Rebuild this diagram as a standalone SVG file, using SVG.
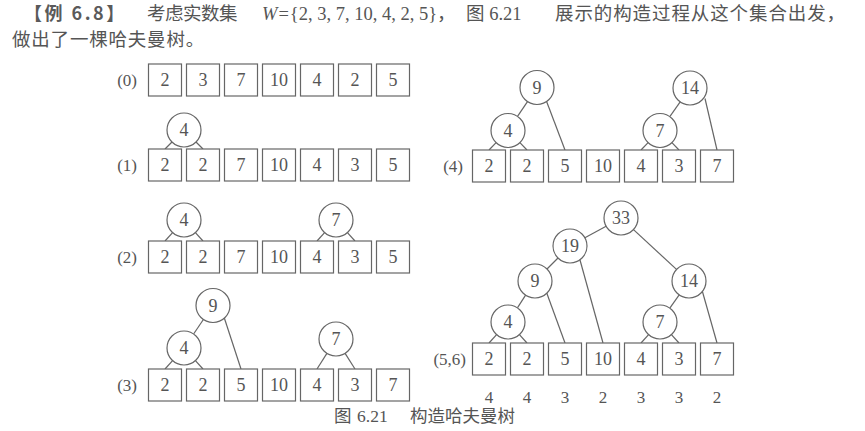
<svg xmlns="http://www.w3.org/2000/svg" width="865" height="431" viewBox="0 0 865 431">
<style>
.bx{fill:#fff;stroke:#666;stroke-width:1.2}
.nd{fill:#fff;stroke:#666;stroke-width:1.2}
.t{font-family:"Liberation Serif","Noto Sans CJK SC",serif;font-size:18px;fill:#555;text-anchor:middle}
.lb{font-family:"Liberation Serif",serif;font-size:17px;fill:#555;text-anchor:end}
.w{font-family:"Liberation Serif",serif;font-size:17px;fill:#555;text-anchor:middle}
.cj{font-family:"Liberation Serif","Noto Sans CJK SC",serif;font-size:18.5px;fill:#555}
.cap{font-family:"Liberation Serif","Noto Sans CJK SC",serif;font-size:17.5px;fill:#555}
#edges line{stroke:#666;stroke-width:1.2}
</style>
<rect width="865" height="431" fill="#fff"/>
<g id="header">
<text x="24" y="20" letter-spacing="2.5" style="font-family:'Noto Sans CJK SC',sans-serif;font-size:18px;font-weight:bold;fill:#5a5a5a">【例 6.8】</text>
<text class="cj" x="147" y="20" letter-spacing="-0.5">考虑实数集</text>
<text class="cj" x="262" y="20"><tspan font-style="italic">W</tspan><tspan dx="1">=</tspan><tspan dx="1">{2, 3, 7, 10, 4, 2, 5}</tspan></text>
<text class="cj" x="437" y="20">，</text>
<text class="cj" x="466" y="20">图 6.21</text>
<text class="cj" x="555" y="20" letter-spacing="0.9">展示的构造过程从这个集合出发，</text>
<text class="cj" x="12" y="46" letter-spacing="0.8">做出了一棵哈夫曼树。</text>
</g>
<g id="edges">
<line x1="172" y1="142" x2="165" y2="149"/><line x1="196" y1="142" x2="203" y2="149"/>
<line x1="172.6" y1="232.6" x2="165" y2="241"/><line x1="195.4" y1="232.6" x2="203" y2="241"/>
<line x1="324.6" y1="232.6" x2="317" y2="241"/><line x1="347.4" y1="232.6" x2="355" y2="241"/>
<line x1="172.6" y1="360.6" x2="165" y2="369"/><line x1="195.4" y1="360.6" x2="203" y2="369"/>
<line x1="203.4" y1="319.5" x2="193.6" y2="334"/><line x1="224" y1="317" x2="241" y2="369"/>
<line x1="326.9" y1="353.4" x2="317" y2="369"/><line x1="345.1" y1="353.4" x2="355" y2="369"/>
<line x1="496.1" y1="142.7" x2="489" y2="150"/><line x1="519.9" y1="142.7" x2="527" y2="150"/>
<line x1="527.5" y1="101.6" x2="517.5" y2="116.4"/><line x1="546.7" y1="101.7" x2="565" y2="150"/>
<line x1="648.1" y1="142.7" x2="641" y2="150"/><line x1="671.9" y1="142.7" x2="679" y2="150"/>
<line x1="680.2" y1="101.9" x2="669.8" y2="116.6"/><line x1="705" y1="98.5" x2="717" y2="150"/>
<line x1="496.6" y1="334.6" x2="489" y2="343"/><line x1="519.4" y1="334.6" x2="527" y2="343"/>
<line x1="525.6" y1="295.2" x2="517.4" y2="307.8"/><line x1="546" y1="291" x2="565" y2="343"/>
<line x1="558" y1="258" x2="547" y2="269"/><line x1="580" y1="260" x2="603" y2="343"/>
<line x1="606.1" y1="226.2" x2="584.9" y2="237.8"/><line x1="633.5" y1="229.6" x2="676.5" y2="269.4"/>
<line x1="679.2" y1="294.9" x2="669.8" y2="308.1"/><line x1="702" y1="290" x2="717" y2="343"/>
<line x1="648.6" y1="334.6" x2="641" y2="343"/><line x1="671.4" y1="334.6" x2="679" y2="343"/>
</g>
<g id="step0">
<text class="lb" x="137" y="86">(0)</text>
<g id="s0b1"><rect class="bx" x="148.5" y="64" width="33" height="32"/><text class="t" x="165" y="86">2</text></g>
<g id="s0b2"><rect class="bx" x="186.5" y="64" width="33" height="32"/><text class="t" x="203" y="86">3</text></g>
<g id="s0b3"><rect class="bx" x="224.5" y="64" width="33" height="32"/><text class="t" x="241" y="86">7</text></g>
<g id="s0b4"><rect class="bx" x="262.5" y="64" width="33" height="32"/><text class="t" x="279" y="86">10</text></g>
<g id="s0b5"><rect class="bx" x="300.5" y="64" width="33" height="32"/><text class="t" x="317" y="86">4</text></g>
<g id="s0b6"><rect class="bx" x="338.5" y="64" width="33" height="32"/><text class="t" x="355" y="86">2</text></g>
<g id="s0b7"><rect class="bx" x="376.5" y="64" width="33" height="32"/><text class="t" x="393" y="86">5</text></g>
</g>
<g id="step1">
<text class="lb" x="137" y="171">(1)</text>
<g id="s1c4"><circle class="nd" cx="184" cy="130" r="17"/><text class="t" x="184" y="136">4</text></g>
<g id="s1b1"><rect class="bx" x="148.5" y="149" width="33" height="32"/><text class="t" x="165" y="171">2</text></g>
<g id="s1b2"><rect class="bx" x="186.5" y="149" width="33" height="32"/><text class="t" x="203" y="171">2</text></g>
<g id="s1b3"><rect class="bx" x="224.5" y="149" width="33" height="32"/><text class="t" x="241" y="171">7</text></g>
<g id="s1b4"><rect class="bx" x="262.5" y="149" width="33" height="32"/><text class="t" x="279" y="171">10</text></g>
<g id="s1b5"><rect class="bx" x="300.5" y="149" width="33" height="32"/><text class="t" x="317" y="171">4</text></g>
<g id="s1b6"><rect class="bx" x="338.5" y="149" width="33" height="32"/><text class="t" x="355" y="171">3</text></g>
<g id="s1b7"><rect class="bx" x="376.5" y="149" width="33" height="32"/><text class="t" x="393" y="171">5</text></g>
</g>
<g id="step2">
<text class="lb" x="137" y="263">(2)</text>
<g id="s2c4"><circle class="nd" cx="184" cy="220" r="17"/><text class="t" x="184" y="226">4</text></g>
<g id="s2c7"><circle class="nd" cx="336" cy="220" r="17"/><text class="t" x="336" y="226">7</text></g>
<g id="s2b1"><rect class="bx" x="148.5" y="241" width="33" height="32"/><text class="t" x="165" y="263">2</text></g>
<g id="s2b2"><rect class="bx" x="186.5" y="241" width="33" height="32"/><text class="t" x="203" y="263">2</text></g>
<g id="s2b3"><rect class="bx" x="224.5" y="241" width="33" height="32"/><text class="t" x="241" y="263">7</text></g>
<g id="s2b4"><rect class="bx" x="262.5" y="241" width="33" height="32"/><text class="t" x="279" y="263">10</text></g>
<g id="s2b5"><rect class="bx" x="300.5" y="241" width="33" height="32"/><text class="t" x="317" y="263">4</text></g>
<g id="s2b6"><rect class="bx" x="338.5" y="241" width="33" height="32"/><text class="t" x="355" y="263">3</text></g>
<g id="s2b7"><rect class="bx" x="376.5" y="241" width="33" height="32"/><text class="t" x="393" y="263">5</text></g>
</g>
<g id="step3">
<text class="lb" x="137" y="391">(3)</text>
<g id="s3c9"><circle class="nd" cx="213" cy="305.5" r="17"/><text class="t" x="213" y="311.5">9</text></g>
<g id="s3c4"><circle class="nd" cx="184" cy="348" r="17"/><text class="t" x="184" y="354">4</text></g>
<g id="s3c7"><circle class="nd" cx="336" cy="339" r="17"/><text class="t" x="336" y="345">7</text></g>
<g id="s3b1"><rect class="bx" x="148.5" y="369" width="33" height="32"/><text class="t" x="165" y="391">2</text></g>
<g id="s3b2"><rect class="bx" x="186.5" y="369" width="33" height="32"/><text class="t" x="203" y="391">2</text></g>
<g id="s3b3"><rect class="bx" x="224.5" y="369" width="33" height="32"/><text class="t" x="241" y="391">5</text></g>
<g id="s3b4"><rect class="bx" x="262.5" y="369" width="33" height="32"/><text class="t" x="279" y="391">10</text></g>
<g id="s3b5"><rect class="bx" x="300.5" y="369" width="33" height="32"/><text class="t" x="317" y="391">4</text></g>
<g id="s3b6"><rect class="bx" x="338.5" y="369" width="33" height="32"/><text class="t" x="355" y="391">3</text></g>
<g id="s3b7"><rect class="bx" x="376.5" y="369" width="33" height="32"/><text class="t" x="393" y="391">7</text></g>
</g>
<g id="step4">
<text class="lb" x="463" y="172">(4)</text>
<g id="s4c9"><circle class="nd" cx="537" cy="87.5" r="17"/><text class="t" x="537" y="93.5">9</text></g>
<g id="s4c4"><circle class="nd" cx="508" cy="130.5" r="17"/><text class="t" x="508" y="136.5">4</text></g>
<g id="s4c14"><circle class="nd" cx="690" cy="88" r="17"/><text class="t" x="690" y="94">14</text></g>
<g id="s4c7"><circle class="nd" cx="660" cy="130.5" r="17"/><text class="t" x="660" y="136.5">7</text></g>
<g id="s4b1"><rect class="bx" x="472.5" y="150" width="33" height="32"/><text class="t" x="489" y="172">2</text></g>
<g id="s4b2"><rect class="bx" x="510.5" y="150" width="33" height="32"/><text class="t" x="527" y="172">2</text></g>
<g id="s4b3"><rect class="bx" x="548.5" y="150" width="33" height="32"/><text class="t" x="565" y="172">5</text></g>
<g id="s4b4"><rect class="bx" x="586.5" y="150" width="33" height="32"/><text class="t" x="603" y="172">10</text></g>
<g id="s4b5"><rect class="bx" x="624.5" y="150" width="33" height="32"/><text class="t" x="641" y="172">4</text></g>
<g id="s4b6"><rect class="bx" x="662.5" y="150" width="33" height="32"/><text class="t" x="679" y="172">3</text></g>
<g id="s4b7"><rect class="bx" x="700.5" y="150" width="33" height="32"/><text class="t" x="717" y="172">7</text></g>
</g>
<g id="step5">
<text class="lb" x="466" y="365">(5,6)</text>
<g id="s5c33"><circle class="nd" cx="621" cy="218" r="17"/><text class="t" x="621" y="224">33</text></g>
<g id="s5c19"><circle class="nd" cx="570" cy="246" r="17"/><text class="t" x="570" y="252">19</text></g>
<g id="s5c9"><circle class="nd" cx="535" cy="281" r="17"/><text class="t" x="535" y="287">9</text></g>
<g id="s5c14"><circle class="nd" cx="689" cy="281" r="17"/><text class="t" x="689" y="287">14</text></g>
<g id="s5c4"><circle class="nd" cx="508" cy="322" r="17"/><text class="t" x="508" y="328">4</text></g>
<g id="s5c7"><circle class="nd" cx="660" cy="322" r="17"/><text class="t" x="660" y="328">7</text></g>
<g id="s5b1"><rect class="bx" x="472.5" y="343" width="33" height="32"/><text class="t" x="489" y="365">2</text></g>
<g id="s5b2"><rect class="bx" x="510.5" y="343" width="33" height="32"/><text class="t" x="527" y="365">2</text></g>
<g id="s5b3"><rect class="bx" x="548.5" y="343" width="33" height="32"/><text class="t" x="565" y="365">5</text></g>
<g id="s5b4"><rect class="bx" x="586.5" y="343" width="33" height="32"/><text class="t" x="603" y="365">10</text></g>
<g id="s5b5"><rect class="bx" x="624.5" y="343" width="33" height="32"/><text class="t" x="641" y="365">4</text></g>
<g id="s5b6"><rect class="bx" x="662.5" y="343" width="33" height="32"/><text class="t" x="679" y="365">3</text></g>
<g id="s5b7"><rect class="bx" x="700.5" y="343" width="33" height="32"/><text class="t" x="717" y="365">7</text></g>
<g id="depths">
<text class="w" x="489" y="403">4</text><text class="w" x="527" y="403">4</text><text class="w" x="565" y="403">3</text><text class="w" x="603" y="403">2</text><text class="w" x="641" y="403">3</text><text class="w" x="679" y="403">3</text><text class="w" x="717" y="403">2</text>
</g>
</g>
<g id="caption">
<text class="cap" x="334" y="422">图</text>
<text class="cap" x="357" y="422">6.21</text>
<text class="cap" x="410" y="422">构造哈夫曼树</text>
</g>
</svg>
